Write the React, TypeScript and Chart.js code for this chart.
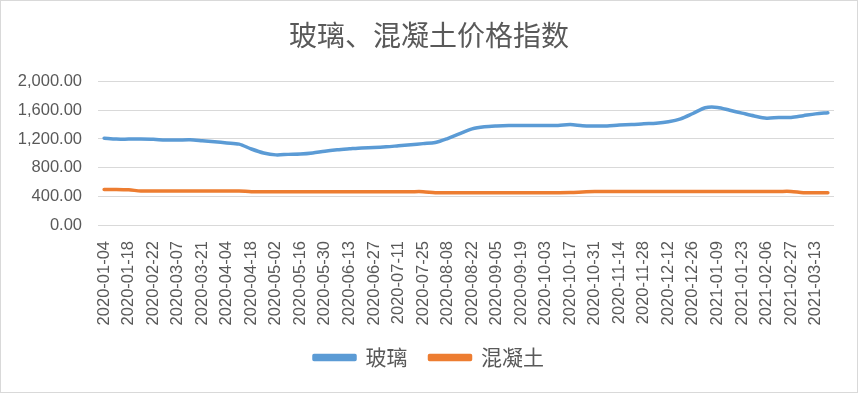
import React, { useEffect, useRef } from 'react';
import { Chart, registerables } from 'chart.js';

Chart.register(...registerables);

const titleText = '玻璃、混凝土价格指数';

const categories = [
  '2020-01-04', '2020-01-11', '2020-01-18', '2020-02-15', '2020-02-22', '2020-02-29',
  '2020-03-07', '2020-03-14', '2020-03-21', '2020-03-28', '2020-04-04', '2020-04-11',
  '2020-04-18', '2020-04-25', '2020-05-02', '2020-05-09', '2020-05-16', '2020-05-23',
  '2020-05-30', '2020-06-06', '2020-06-13', '2020-06-20', '2020-06-27', '2020-07-04',
  '2020-07-11', '2020-07-18', '2020-07-25', '2020-08-01', '2020-08-08', '2020-08-15',
  '2020-08-22', '2020-08-29', '2020-09-05', '2020-09-12', '2020-09-19', '2020-09-26',
  '2020-10-03', '2020-10-10', '2020-10-17', '2020-10-24', '2020-10-31', '2020-11-07',
  '2020-11-14', '2020-11-21', '2020-11-28', '2020-12-05', '2020-12-12', '2020-12-19',
  '2020-12-26', '2021-01-02', '2021-01-09', '2021-01-16', '2021-01-23', '2021-01-30',
  '2021-02-06', '2021-02-20', '2021-02-27', '2021-03-06', '2021-03-13', '2021-03-20',
];

const glassValues = [
  1210, 1198, 1198, 1198, 1195, 1185,
  1185, 1188, 1175, 1160, 1145, 1128,
  1060, 1005, 978, 985, 990, 1005,
  1030, 1048, 1062, 1075, 1080, 1090,
  1105, 1120, 1135, 1150, 1205, 1275,
  1340, 1370, 1382, 1388, 1388, 1388,
  1388, 1388, 1400, 1385, 1382, 1382,
  1395, 1400, 1412, 1420, 1440, 1480,
  1555, 1635, 1640, 1600, 1560, 1520,
  1490, 1500, 1500, 1525, 1550, 1565,
];

const concreteValues = [
  495, 495, 490, 475, 475, 475,
  475, 475, 475, 475, 475, 475,
  465, 465, 465, 465, 465, 465,
  465, 465, 465, 465, 465, 465,
  465, 465, 465, 450, 450, 450,
  450, 450, 450, 450, 450, 450,
  450, 450, 452, 460, 468, 468,
  468, 468, 468, 468, 468, 468,
  468, 468, 468, 468, 468, 468,
  468, 468, 468, 450, 450, 450,
];

const yMin = 0;
const yMax = 2000;
const yStep = 400;

const seriesNames = ['玻璃', '混凝土'];
const seriesColors = ['#5B9BD5', '#ED7D31'];

const textColor = '#595959';
const fontFamily = '"Liberation Sans", Arial, "Noto Sans CJK SC", sans-serif';
const cjkFont = '"Noto Sans CJK SC", "Liberation Sans", sans-serif';

export default function App() {
  const canvasRef = useRef<HTMLCanvasElement | null>(null);

  useEffect(() => {
    document.body.style.margin = '0';
    const canvas = canvasRef.current;
    if (!canvas) return;
    const chart = new Chart(canvas, {
      type: 'line',
      data: {
        labels: categories,
        datasets: [
          {
            label: seriesNames[0],
            data: glassValues,
            borderColor: seriesColors[0],
            backgroundColor: seriesColors[0],
            borderWidth: 3.5,
            pointRadius: 0,
            tension: 0.3,
            borderCapStyle: 'round',
            borderJoinStyle: 'round',
          },
          {
            label: seriesNames[1],
            data: concreteValues,
            borderColor: seriesColors[1],
            backgroundColor: seriesColors[1],
            borderWidth: 3.5,
            pointRadius: 0,
            tension: 0.3,
            borderCapStyle: 'round',
            borderJoinStyle: 'round',
          },
        ],
      },
      options: {
        responsive: false,
        animation: false,
        devicePixelRatio: 1,
        layout: { padding: { left: 0, right: 0, top: 0, bottom: 14 } },
        plugins: {
          title: {
            display: true,
            text: titleText,
            color: textColor,
            font: { family: cjkFont, size: 28, weight: 'normal' },
            padding: { top: 18, bottom: 29 },
          },
          legend: {
            display: true,
            position: 'bottom',
            labels: {
              color: textColor,
              font: { family: cjkFont, size: 21 },
              boxWidth: 41,
              boxHeight: 4,
              padding: 22,
            },
          },
          tooltip: { enabled: false },
        },
        scales: {
          x: {
            type: 'category',
            offset: true,
            grid: { display: false },
            border: { display: false },
            ticks: {
              autoSkip: false,
              maxRotation: 90,
              minRotation: 90,
              color: textColor,
              font: { family: fontFamily, size: 16.5 },
              padding: 8,
              callback: function (this: any, value: any, index: number) {
                return index % 2 === 0 ? this.getLabelForValue(value) : '';
              },
            },
            afterFit: (scale: any) => {
              scale.height = 100;
            },
          },
          y: {
            min: yMin,
            max: yMax,
            grid: { color: '#D9D9D9', lineWidth: 1, drawTicks: false, tickLength: 0 },
            border: { display: false },
            ticks: {
              stepSize: yStep,
              color: textColor,
              font: { family: fontFamily, size: 16.5 },
              padding: 16,
              callback: (v: any) =>
                Number(v).toLocaleString('en-US', { minimumFractionDigits: 2, maximumFractionDigits: 2 }),
            },
            afterFit: (scale: any) => {
              scale.width = 97;
            },
          },
          ySpacer: {
            type: 'linear',
            position: 'right',
            display: true,
            min: yMin,
            max: yMax,
            grid: { display: false, drawTicks: false },
            border: { display: false },
            ticks: { display: false },
            afterFit: (scale: any) => {
              scale.width = 23;
            },
          },
        },
      },
    });
    return () => chart.destroy();
  }, []);

  return (
    <div
      style={{
        width: 858,
        height: 393,
        boxSizing: 'border-box',
        border: '1px solid #D9D9D9',
        background: '#ffffff',
        overflow: 'hidden',
      }}
    >
      <canvas ref={canvasRef} width={856} height={391} style={{ display: 'block' }} />
    </div>
  );
}
